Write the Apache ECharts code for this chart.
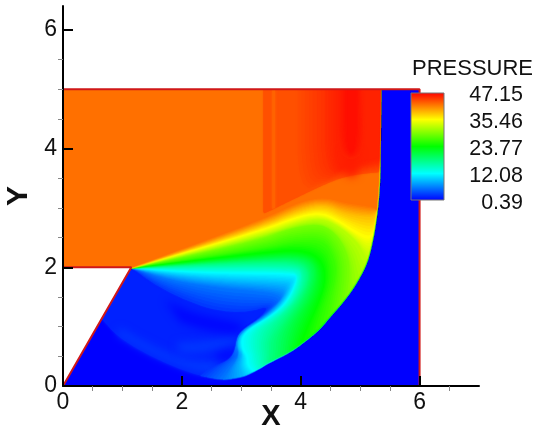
<!DOCTYPE html>
<html><head><meta charset="utf-8">
<style>html,body{margin:0;padding:0;background:#fff}#c{width:537px;height:432px}</style>
<script src="https://cdn.jsdelivr.net/npm/echarts@6/dist/echarts.min.js"></script>
</head><body><div id="c"></div>
<script>
// Tick values and legend labels
const xMajor=[0,2,4,6];
const xMinor=[0.5,1,1.5,2.5,3,3.5,4.5,5,5.5,6.5];
const yMajor=[0,2,4,6];
const yMinor=[0.5,1,1.5,2.5,3,3.5,4.5,5,5.5];
const legendValues=['47.15','35.46','23.77','12.08','0.39'];
const palette=['#0000ff','#00ffff','#00ff00','#ffff00','#ff0000'];
const pressureMin=0.39, pressureMax=47.15;

// Domain outline (x, y)
const domain=[[0,0],[1.15,2],[0,2],[0,5],[6,5],[6,0]];
const wallLower=[[0,0],[1.15,2],[0,2]];
const wallUpper=[[0,5],[6,5],[6,0]];
const apex=[1.15,2];

// Shock front, ramp to top wall
const shock=[[.65,1.13],[.91,.84],[1.35,.56],[1.92,.30],[2.31,.17],[2.69,.11],[2.85,.135],[3.03,.17],[3.20,.25],[3.32,.32],[3.48,.42],[3.77,.56],[3.99,.71],[4.28,.94],[4.44,1.13],[4.78,1.52],[5.0,1.87],[5.12,2.14],[5.21,2.54],[5.27,2.96],[5.31,3.42],[5.32,4.2],[5.33,5]];

// Iso-pressure lines: each runs from the apex side to the shock
const iso3=[apex,[1.55,1.70],[2.05,1.45],[2.56,1.27],[3.1,1.24],[3.5,1.36],[3.25,1.08],[3.0,.92],[2.93,.81],[2.95,.62],[2.81,.44],[2.47,.30],[2.31,.17]];
const iso6=[apex,[1.80,1.78],[2.64,1.65],[3.48,1.58],[3.69,1.50],[3.62,1.38],[3.35,1.14],[3.08,.98],[2.93,.84],[2.91,.61],[3.0,.54],[2.85,.35],[2.75,.20],[2.69,.11]];
const iso9=[apex,[1.80,1.87],[2.64,1.78],[3.65,1.73],[3.82,1.70],[3.70,1.40],[3.40,1.13],[3.10,.96],[2.95,.81],[2.95,.62],[3.03,.54],[2.97,.35],[3.03,.17]];
const iso12=[apex,[1.80,1.94],[2.64,1.90],[3.91,1.89],[3.96,1.82],[3.77,1.40],[3.48,1.16],[3.18,.99],[3.0,.82],[3.02,.61],[3.10,.50],[3.10,.35],[3.20,.25]];
const iso15=[apex,[1.80,1.99],[2.64,1.99],[3.91,1.99],[4.04,1.87],[3.87,1.41],[3.57,1.14],[3.30,.95],[3.25,.70],[3.30,.50],[3.32,.32]];
const iso18=[apex,[2.24,2.05],[3.32,2.09],[3.99,2.09],[4.16,1.87],[3.99,1.45],[3.69,1.08],[3.50,.78],[3.50,.55],[3.48,.42]];
const iso21=[apex,[3.32,2.17],[4.07,2.19],[4.29,1.95],[4.16,1.48],[3.90,1.09],[3.80,.80],[3.77,.56]];
const iso24=[apex,[3.32,2.24],[3.99,2.29],[4.33,2.15],[4.43,1.78],[4.25,1.30],[4.10,1.0],[3.99,.71]];
const iso27=[apex,[3.32,2.32],[3.91,2.46],[4.41,2.46],[4.58,2.12],[4.60,1.85],[4.50,1.45],[4.44,1.13]];
const iso30=[apex,[3.32,2.46],[3.82,2.66],[4.36,2.74],[4.63,2.54],[4.80,2.21],[4.83,1.90],[4.78,1.52]];
const iso33=[apex,[3.32,2.53],[3.91,2.74],[4.36,2.83],[4.70,2.66],[4.97,2.41],[5.05,2.25],[5.12,2.14]];
const iso35=[apex,[3.32,2.61],[3.99,2.86],[4.36,2.91],[4.66,2.76],[4.87,2.61],[5.13,2.46],[5.21,2.54]];
const iso38=[apex,[3.32,2.69],[3.99,2.98],[4.41,3.06],[4.75,2.90],[5.23,2.83],[5.27,2.96]];
const iso42=[apex,[3.32,2.79],[3.99,3.11],[4.41,3.18],[4.75,3.08],[5.26,3.01],[5.27,2.96]];
const iso435=[[3.37,5],[3.37,3.0],[3.37,2.90],[3.42,2.92],[4.44,3.42],[4.83,3.55],[5.31,3.60]];
const iso437=[[3.95,5],[3.95,3.27],[4.44,3.44],[4.83,3.56],[5.31,3.62]];
const iso450=[[4.41,5],[4.41,3.55],[4.83,3.67],[5.31,3.75]];
const iso456=[[4.60,5],[4.60,3.65],[4.83,3.75],[5.31,3.85]];

// Closed patches
const patchRidgeLow=[[.91,.86],[1.35,.60],[1.92,.34],[2.31,.22],[2.69,.15],[2.95,.30],[2.80,.44],[2.45,.40],[1.95,.47],[1.4,.72],[.95,.98]];
const patchRidgeMid=[[1.9,.72],[2.4,.75],[2.95,.85],[2.95,.72],[2.6,.62],[2.2,.55],[1.95,.58]];
const patchPocket=[[1.72,1.45],[2.14,1.25],[2.56,1.15],[3.06,1.05],[3.0,.86],[2.40,.93],[1.97,1.08]];
const patchBlob=[[2.55,.52],[2.8,.62],[2.93,.62],[2.9,.48],[2.75,.40],[2.6,.42]];
const patchTail=[[4.72,3.95],[4.72,3.6],[4.85,3.5],[4.98,3.6],[4.98,3.95]];
const stripLight=[[3.52,5],[3.57,5],[3.57,3.0],[3.52,2.98]];
const columnOuter=[[4.62,5],[4.62,3.95],[4.85,3.78],[5.08,3.95],[5.05,5]];
const columnCore=[[4.78,5],[4.78,4.1],[4.85,3.9],[4.92,4.1],[4.92,5]];

// Rendering helpers: rounding of read lines and shading between adjacent read isolines
function chaikin(line,n){
  let a=line;
  for(let k=0;k<n;k++){
    const b=[a[0]];
    for(let i=0;i<a.length-1;i++){
      const p=a[i],q=a[i+1];
      b.push([p[0]*.75+q[0]*.25,p[1]*.75+q[1]*.25],[p[0]*.25+q[0]*.75,p[1]*.25+q[1]*.75]);
    }
    b.push(a[a.length-1]);a=b;
  }
  return a;
}
function resample(line,m){
  const d=[0];
  for(let i=1;i<line.length;i++)d.push(d[i-1]+Math.hypot(line[i][0]-line[i-1][0],line[i][1]-line[i-1][1]));
  const out=[];let j=0;
  for(let k=0;k<m;k++){
    const s=d[d.length-1]*k/(m-1);
    while(j<d.length-2&&d[j+1]<s)j++;
    const t=d[j+1]>d[j]?(s-d[j])/(d[j+1]-d[j]):0;
    out.push([line[j][0]+(line[j+1][0]-line[j][0])*t,line[j][1]+(line[j+1][1]-line[j][1])*t]);
  }
  return out;
}
const M=120;
const shockPath=chaikin(shock,2);
function closeToShock(line,corner){
  const end=line[line.length-1];let best=0,d=1e9;
  shockPath.forEach((s,i)=>{const q=(s[0]-end[0])**2+(s[1]-end[1])**2;if(q<d){d=q;best=i;}});
  return line.concat(shockPath.slice(best+1),corner||[]);
}
const top115=[[1.15,5]];
const layers=[
 {p:0.39,pts:domain},
 {p:1.9,pts:closeToShock([apex,shock[0]],top115)},
 {p:3.0,pts:chaikin(patchRidgeLow,2),soft:1},
 {p:3.0,pts:chaikin(patchRidgeMid,2),soft:1},
 {p:0.7,pts:chaikin(patchPocket,2),soft:1},
 {p:0.8,pts:chaikin(patchBlob,2),soft:1},
 {p:3,line:iso3,corner:top115,shade:1},
 {p:6,line:iso6,corner:top115,shade:1},
 {p:9,line:iso9,corner:top115,shade:1},
 {p:12,line:iso12,corner:top115,shade:1},
 {p:15,line:iso15,corner:top115,shade:1},
 {p:18,line:iso18,corner:top115,shade:1},
 {p:21,line:iso21,corner:top115,shade:1},
 {p:23.77,line:iso24,corner:top115,shade:1},
 {p:26.7,line:iso27,corner:top115,shade:1},
 {p:29.6,line:iso30,corner:top115,shade:1},
 {p:32.5,line:iso33,corner:top115,shade:1},
 {p:35.46,line:iso35,corner:top115,shade:1},
 {p:38.7,line:iso38,corner:top115,shade:1},
 {p:42,line:iso42,corner:[[0,5],[0,2]]},
 {p:43.5,line:iso435},
 {p:42.6,pts:stripLight},
 {p:43.7,line:iso437,shade:1},
 {p:45,line:iso450,shade:1},
 {p:45.6,line:iso456},
 {p:45.8,pts:chaikin(patchTail,2),soft:1},
 {p:45.6,closed:columnOuter,shade:1},
 {p:46.5,closed:columnCore}
];
layers.forEach(l=>{
  if(l.line)l.rs=resample(chaikin(l.line,2),M);
  if(l.closed)l.rs=resample(chaikin(l.closed,2),M);
});
const SUB=7;
function polyOf(l,rs){return l.closed?rs:closeToShock(rs,l.corner);}

const font='"Liberation Sans",Helvetica,Arial,sans-serif', ink='#111';
const chart=echarts.init(document.getElementById('c'),null,{renderer:'canvas'});
const label={color:ink,fontFamily:font,fontSize:23,show:true};
const minorTick={show:true,inside:true,length:5,lineStyle:{color:'#888',width:1}};
chart.setOption({
 animation:false,
 grid:{left:63,top:6,width:416,height:380,outerBoundsMode:'none'},
 visualMap:{type:'continuous',show:false,seriesIndex:0,dimension:2,min:pressureMin,max:pressureMax,inRange:{color:palette}},
 xAxis:[
  {type:'value',min:0,max:7,interval:1,z:5,splitLine:{show:false},
   axisLine:{onZero:false,lineStyle:{color:'#000',width:2}},
   axisTick:{show:true,inside:true,length:10,lineStyle:{color:'#000',width:2},customValues:xMajor},
   axisLabel:{...label,margin:5,customValues:xMajor},
   name:'X',nameLocation:'middle',nameGap:16,nameMoveOverlap:false,nameTextStyle:{color:ink,fontFamily:font,fontSize:29,fontWeight:'bold',verticalAlign:'top'}},
  {type:'value',min:0,max:7,interval:1,z:5,splitLine:{show:false},axisLine:{show:false},
   axisTick:{...minorTick,customValues:xMinor},axisLabel:{show:false}}
 ],
 yAxis:[
  {type:'value',min:0,max:6.4,interval:1,z:5,splitLine:{show:false},
   axisLine:{onZero:false,lineStyle:{color:'#000',width:2}},
   axisTick:{show:true,inside:true,length:10,lineStyle:{color:'#000',width:2},customValues:yMajor},
   axisLabel:{...label,margin:6,customValues:yMajor},
   name:'Y',nameLocation:'middle',nameGap:27,nameTextStyle:{color:ink,fontFamily:font,fontSize:30,fontWeight:'bold'}},
  {type:'value',min:0,max:6.4,interval:1,z:5,splitLine:{show:false},axisLine:{show:false},
   axisTick:{...minorTick,customValues:yMinor},axisLabel:{show:false}}
 ],
 series:[
  {type:'custom',coordinateSystem:'cartesian2d',xAxisIndex:0,yAxisIndex:0,clip:false,z:2,silent:true,
   data:layers.map((l,i)=>{const q=(l.pts||l.line||l.closed)[0];return [q[0],q[1],l.p,i];}),
   encode:{x:0,y:1},
   renderItem(params,api){
     const i=api.value(3), layer=layers[i], c=api.visual('color');
     const clip=()=>({type:'polygon',shape:{points:domain.map(q=>api.coord(q))}});
     const poly=(pts,col,blur)=>({type:'polygon',shape:{points:pts.map(q=>api.coord(q))},clipPath:clip(),
        style:{fill:col,shadowBlur:blur,shadowColor:col}});
     if(layer.soft){
       // blurred both ways: only the shadow of the patch lands in the plot
       return {type:'polygon',shape:{points:layer.pts.map(q=>{const m=api.coord(q);return [m[0]-1000,m[1]];})},
         style:{fill:c,shadowBlur:9,shadowColor:c,shadowOffsetX:1000}};
     }
     if(layer.pts) return poly(layer.pts,c,3);
     if(!layer.shade) return poly(polyOf(layer,layer.rs),c,1.5);
     const nxt=layers[i+1], c2=api.visual('color',i+1), children=[];
     for(let k=0;k<SUB;k++){
       const t=k/SUB;
       const rs=layer.rs.map((q,n)=>[q[0]+(nxt.rs[n][0]-q[0])*t,q[1]+(nxt.rs[n][1]-q[1])*t]);
       children.push(poly(polyOf(layer,rs),echarts.color.lerp(t,[c,c2]),1.5));
     }
     return {type:'group',children};
   }},
  {type:'line',data:wallLower,showSymbol:false,symbol:'none',clip:false,z:3,silent:true,lineStyle:{color:'#d01818',width:2}},
  {type:'line',data:wallUpper,showSymbol:false,symbol:'none',clip:false,z:3,silent:true,lineStyle:{color:'#d01818',width:2}}
 ],
 graphic:[
  {type:'text',left:412,top:58,z:10,style:{text:'PRESSURE',fill:ink,font:'22px '+font}},
  {type:'rect',z:10,shape:{x:411,y:93,width:33,height:107},style:{stroke:'#777',lineWidth:1,
     fill:new echarts.graphic.LinearGradient(0,1,0,0,palette.map((color,i)=>({offset:i/(palette.length-1),color})))}},
  ...legendValues.map((t,i)=>({type:'text',right:14,top:84+i*26.9,z:10,style:{text:t,fill:ink,font:'21.5px '+font}}))
 ]
});
</script></body></html>
